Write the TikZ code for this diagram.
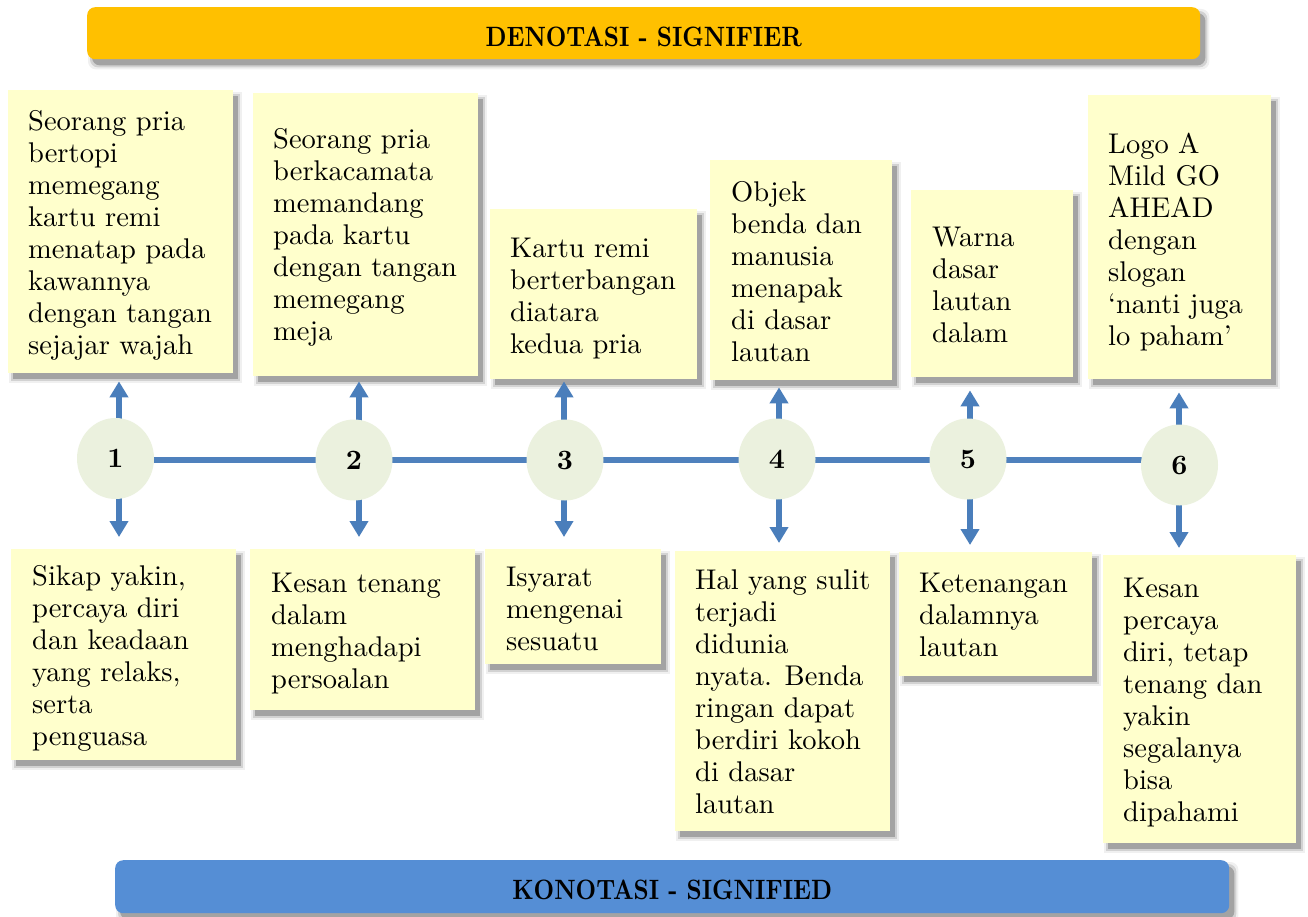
\documentclass[tikz,border=0pt]{standalone}
\usepackage{fontspec}
\setmainfont{lmroman10-regular.otf}[BoldFont=lmroman10-bold.otf]
\usetikzlibrary{arrows.meta,shapes.geometric}
\definecolor{boxfill}{HTML}{FFFFCC}
\definecolor{topband}{HTML}{FFC000}
\definecolor{botband}{HTML}{558ED5}
\definecolor{linblue}{HTML}{4F81BD}
\definecolor{arrblue}{HTML}{4A7EBB}
\definecolor{circfill}{HTML}{EBF1DE}
\pgfdeclarelayer{bgzero}
\pgfdeclarelayer{background}
\pgfsetlayers{bgzero,background,main}
\newcommand\mkshadow[2][]{%
  \begin{pgfonlayer}{background}
  \foreach \dd/\oo in {4/0.06,2/0.12,0/0.22}{%
    \fill[black,opacity=\oo,#1] ([shift={(5-\dd,6-\dd)}]#2.north west) rectangle ([shift={(5+\dd,6+\dd)}]#2.south east);
  }
  \end{pgfonlayer}}
\tikzset{
  card/.style 2 args={rectangle, draw=none, fill=boxfill, anchor=north west, inner sep=0pt, minimum width=#1pt, minimum height=#2pt},
  txt/.style={anchor=north west, inner sep=0pt, align=left, font=\fontsize{28.5}{32}\selectfont},
  band/.style 2 args={rectangle, rounded corners=8pt, draw=none, anchor=north west, inner sep=0pt, minimum width=#1pt, minimum height=#2pt},
  bandtxt/.style={inner sep=0pt, font=\fontsize{28}{30}\selectfont\bfseries},
  num/.style={ellipse, fill=circfill, draw=none, minimum width=77pt, minimum height=81pt, inner sep=0pt, font=\fontsize{28}{30}\selectfont\bfseries},
  arr/.style={draw=arrblue, line width=5.5pt, -{Triangle[width=18pt,length=16pt]}},
  hline/.style={draw=linblue, line width=6pt}
}
\begin{document}
\begin{tikzpicture}[x=1pt,y=-1pt]
\useasboundingbox (0,0) rectangle (1308,917);
\begin{pgfonlayer}{bgzero}
\fill[white] (0,0) rectangle (1308,917);
\end{pgfonlayer}

% banners
\node[band={1113}{52}, fill=topband] (top) at (87,7) {};
\mkshadow[rounded corners=8pt]{top}
\node[bandtxt] (toptxt) at ([yshift=-4pt]top.center) {\scalebox{0.85}[1]{DENOTASI - SIGNIFIER}};
\node[band={1114}{53}, fill=botband] (bot) at (115,860) {};
\mkshadow[rounded corners=8pt]{bot}
\node[bandtxt] (bottxt) at ([yshift=-3.5pt]bot.center) {\scalebox{0.85}[1]{KONOTASI - SIGNIFIED}};

% top cards
\node[card={225}{283}] (T1) at (8,90) {};\mkshadow{T1}
\node[txt] (T1t) at (28,110.5) {Seorang pria\\bertopi\\memegang\\kartu remi\\menatap pada\\kawannya\\dengan tangan\\sejajar wajah};
\node[card={225}{283}] (T2) at (253,93) {};\mkshadow{T2}
\node[txt] (T2t) at (273,128.5) {Seorang pria\\berkacamata\\memandang\\pada kartu\\dengan tangan\\memegang\\meja};
\node[card={207}{170}] (T3) at (490,209) {};\mkshadow{T3}
\node[txt] (T3t) at (510,237.5) {Kartu remi\\berterbangan\\diatara\\kedua pria};
\node[card={182}{220}] (T4) at (710,160) {};\mkshadow{T4}
\node[txt] (T4t) at (731,181.5) {Objek\\benda dan\\manusia\\menapak\\di dasar\\lautan};
\node[card={162}{187}] (T5) at (911,190) {};\mkshadow{T5}
\node[txt] (T5t) at (932,226.5) {Warna\\dasar\\lautan\\dalam};
\node[card={183}{284}] (T6) at (1088,95) {};\mkshadow{T6}
\node[txt] (T6t) at (1108,132.5) {Logo A\\Mild GO\\AHEAD\\dengan\\slogan\\‘nanti juga\\lo paham’};

% bottom cards
\node[card={225}{211}] (B1) at (11,549) {};\mkshadow{B1}
\node[txt] (B1t) at (32,565.5) {Sikap yakin,\\percaya diri\\dan keadaan\\yang relaks,\\serta\\penguasa};
\node[card={225}{161}] (B2) at (250,549) {};\mkshadow{B2}
\node[txt] (B2t) at (271,572.5) {Kesan tenang\\dalam\\menghadapi\\persoalan};
\node[card={176}{115}] (B3) at (485,549) {};\mkshadow{B3}
\node[txt] (B3t) at (506,566.5) {Isyarat\\mengenai\\sesuatu};
\node[card={215}{280}] (B4) at (675,551) {};\mkshadow{B4}
\node[txt] (B4t) at (695,569.5) {Hal yang sulit\\terjadi\\didunia\\nyata. Benda\\ringan dapat\\berdiri kokoh\\di dasar\\lautan};
\node[card={193}{124}] (B5) at (899,552) {};\mkshadow{B5}
\node[txt] (B5t) at (919,572.5) {Ketenangan\\dalamnya\\lautan};
\node[card={193}{288}] (B6) at (1103,555) {};\mkshadow{B6}
\node[txt] (B6t) at (1123,577.5) {Kesan\\percaya\\diri, tetap\\tenang dan\\yakin\\segalanya\\bisa\\dipahami};

% arrow columns
\coordinate (a1) at (119,460);
\coordinate (a2) at (359,460);
\coordinate (a3) at (564,460);
\coordinate (a4) at (779,460);
\coordinate (a5) at (970,460);
\coordinate (a6) at (1179,462);

% timeline
\coordinate (lend) at (1179,460);
\draw[hline] (a1) -- (lend);

% arrows
\draw[arr, shorten >=8pt] (a1) -- (a1 |- T1.south);
\draw[arr, shorten >=5pt] (a2) -- (a2 |- T2.south);
\draw[arr, shorten >=2pt] (a3) -- (a3 |- T3.south);
\draw[arr, shorten >=7pt] (a4) -- (a4 |- T4.south);
\draw[arr, shorten >=13pt] (a5) -- (a5 |- T5.south);
\draw[arr, shorten >=13pt] (a6) -- (a6 |- T6.south);
\draw[arr, shorten >=12pt] (a1) -- (a1 |- B1.north);
\draw[arr, shorten >=12pt] (a2) -- (a2 |- B2.north);
\draw[arr, shorten >=12pt] (a3) -- (a3 |- B3.north);
\draw[arr, shorten >=8pt] (a4) -- (a4 |- B4.north);
\draw[arr, shorten >=7pt] (a5) -- (a5 |- B5.north);
\draw[arr, shorten >=7pt] (a6) -- (a6 |- B6.north);

% circles
\node[num] (c1) at (115.5,458.5) {1};
\node[num] (c2) at (354,460) {2};
\node[num] (c3) at (565,460) {3};
\node[num] (c4) at (777,459) {4};
\node[num] (c5) at (968,459) {5};
\node[num] (c6) at (1179.5,465) {6};
\end{tikzpicture}
\end{document}
